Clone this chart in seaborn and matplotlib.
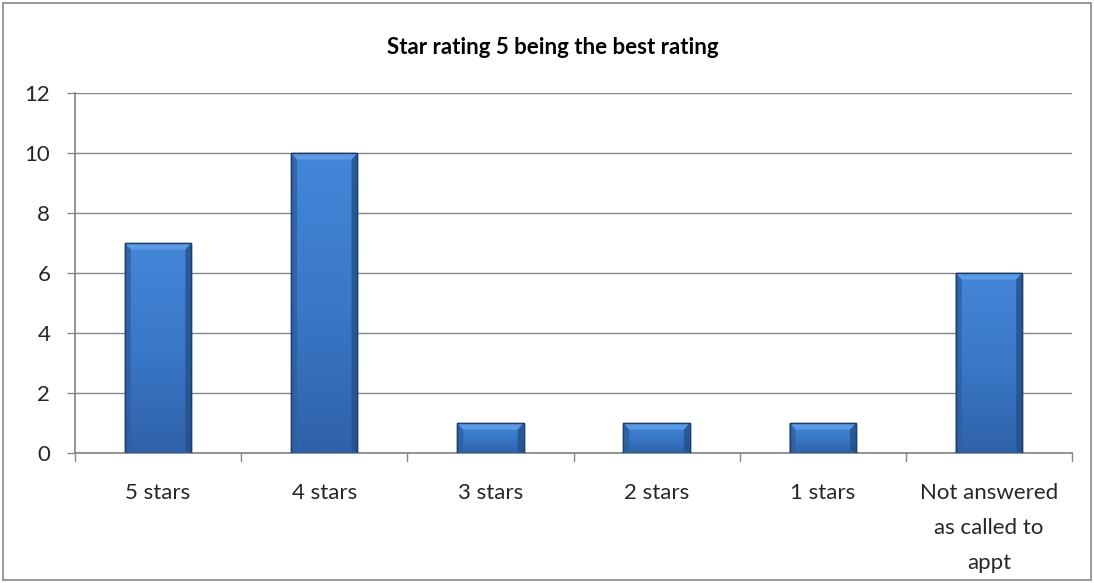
import numpy as np
import pandas as pd
import matplotlib
matplotlib.use("Agg")
import matplotlib.pyplot as plt
from matplotlib.patches import Rectangle, Polygon
import seaborn as sns

categories = ["5 stars", "4 stars", "3 stars", "2 stars", "1 stars",
              "Not answered\nas called to\nappt"]
counts = [7, 10, 1, 1, 1, 6]
y_ticks = [0, 2, 4, 6, 8, 10, 12]
title = "Star rating 5 being the best rating"

sns.set_theme(style="white")
plt.rcParams["font.family"] = ["Lato", "DejaVu Sans"]

df = pd.DataFrame({"category": categories, "count": counts})

W, H = 1094, 583
fig = plt.figure(figsize=(W / 100, H / 100), dpi=100)
left, right, top, bottom = 75, 1072, 93, 453
ax = fig.add_axes([left / W, 1 - bottom / H, (right - left) / W, (bottom - top) / H])

sns.barplot(data=df, x="category", y="count", ax=ax, color="#3a78c9",
            width=0.4, saturation=1, edgecolor="#1d3d6b", linewidth=1.0,
            zorder=3)

ax.set_ylim(0, 12)
ax.set_xlim(-0.5, len(categories) - 0.5)
ax.set_yticks(y_ticks)
ax.set_yticklabels([str(v) for v in y_ticks], fontsize=16)
ax.tick_params(axis="x", length=0, pad=21.5, labelsize=16)
ax.tick_params(axis="y", length=5.8, width=1, color="#868686", left=True, pad=12)
ax.set_xlabel("")
ax.set_ylabel("")
for lbl in ax.get_xticklabels():
    lbl.set_linespacing(1.95)

# horizontal gridlines
ax.yaxis.grid(True, color="#868686", linewidth=1.0, zorder=0)
ax.set_axisbelow(True)
for side in ["top", "right"]:
    ax.spines[side].set_visible(False)
ax.spines["left"].set_color("#868686")
ax.spines["bottom"].set_color("#868686")

# category boundary tick marks below the axis
for b in np.arange(-0.5, len(categories) + 0.5, 1.0):
    ax.plot([b, b], [0, -0.27], color="#868686", lw=1.0, clip_on=False, zorder=4)

# shaded, bevelled bar faces
grad = np.linspace(0, 1, 256).reshape(-1, 1)
body = matplotlib.colors.LinearSegmentedColormap.from_list(
    "body", ["#2f62a8", "#3a78c9", "#4486d8"])
for patch in list(ax.patches):
    x0, y0 = patch.get_x(), patch.get_y()
    w, h = patch.get_width(), patch.get_height()
    im = ax.imshow(grad, cmap=body, aspect="auto", origin="lower",
                   extent=(x0, x0 + w, y0, y0 + h), zorder=3.1)
    im.set_clip_path(patch)
    bev_x = w * 0.09
    bev_y = min(0.22, h * 0.3)
    t = y0 + h
    ax.add_patch(Polygon([(x0, t), (x0 + w, t), (x0 + w - bev_x, t - bev_y),
                          (x0 + bev_x, t - bev_y)], closed=True,
                         facecolor="#5c9ae6", edgecolor="none", zorder=3.2))
    ax.add_patch(Polygon([(x0, y0), (x0 + bev_x, y0 + bev_y * 0.4),
                          (x0 + bev_x, t - bev_y), (x0, t)], closed=True,
                         facecolor="#2e5f9f", edgecolor="none", zorder=3.2, alpha=0.8))
    ax.add_patch(Polygon([(x0 + w, y0), (x0 + w - bev_x, y0 + bev_y * 0.4),
                          (x0 + w - bev_x, t - bev_y), (x0 + w, t)], closed=True,
                         facecolor="#24508a", edgecolor="none", zorder=3.2, alpha=0.8))
    ax.add_patch(Rectangle((x0, y0), w, h, facecolor="none",
                           edgecolor="#1d3d6b", linewidth=1.0, zorder=3.3))

ax.set_xlim(-0.5, len(categories) - 0.5)
ax.set_ylim(0, 12)

fig.text(553 / W, 1 - 47 / H, title, ha="center", va="center",
         fontsize=16, fontweight="bold", color="black")

# chart border
fig.add_artist(Rectangle((3 / W, 3 / H), 1 - 6 / W, 1 - 6 / H,
                         transform=fig.transFigure, facecolor="none",
                         edgecolor="#868686", linewidth=1.2))

fig.savefig("out.png", dpi=100, facecolor="white")
